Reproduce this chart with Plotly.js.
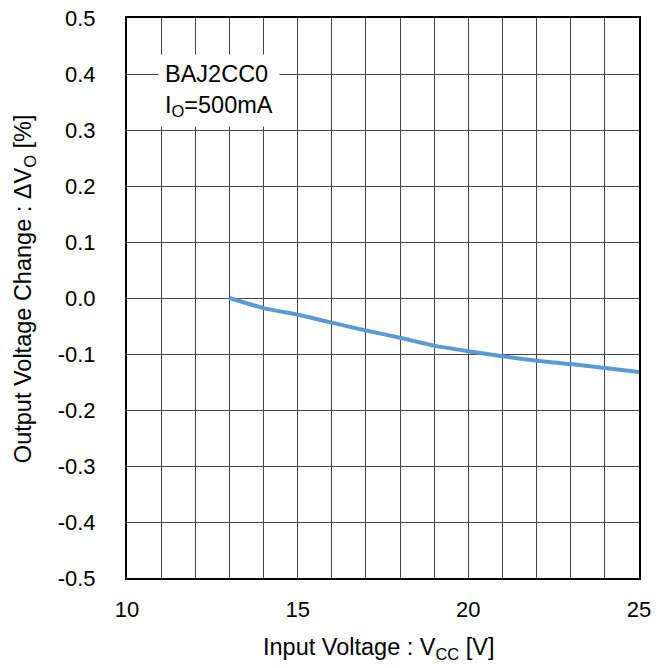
<!DOCTYPE html>
<html>
<head>
<meta charset="utf-8">
<script src="https://cdn.plot.ly/plotly-3.0.1.min.js"></script>
<style>html,body{margin:0;padding:0;background:#fff;}#chart{width:664px;height:668px;}</style>
</head>
<body>
<div id="chart"></div>
<script>
const vcc = [13, 14, 15, 16, 17, 18, 19, 20, 21, 22, 23, 24, 25];
const dVo = [0.0, -0.018, -0.030, -0.044, -0.058, -0.071, -0.085, -0.095, -0.104, -0.112, -0.118, -0.125, -0.132];
const xTickVals = [10, 15, 20, 25];
const xTickText = ['10', '15', '20', '25'];
const yTickVals = [-0.5, -0.4, -0.3, -0.2, -0.1, 0.0, 0.1, 0.2, 0.3, 0.4, 0.5];
const yTickText = ['-0.5', '-0.4', '-0.3', '-0.2', '-0.1', '0.0', '0.1', '0.2', '0.3', '0.4', '0.5'];
const xTitle = 'Input Voltage : V<sub>CC</sub> [V]';
const yTitle = 'Output Voltage Change : ΔV<sub>O</sub> [%]';
const noteText = 'BAJ2CC0<br>I<sub>O</sub>=500mA';

const fam = 'Liberation Sans, Arial, sans-serif';
const tickFont = {family: fam, size: 22, color: '#000'};
const titleFont = {family: fam, size: 23.5, color: '#000'};

const trace = {
  x: vcc, y: dVo, type: 'scatter', mode: 'lines',
  line: {color: '#5B9BD5', width: 4, shape: 'spline', smoothing: 0.6},
  hoverinfo: 'skip'
};

const layout = {
  width: 664, height: 668,
  margin: {l: 127, r: 25, t: 18, b: 90},
  paper_bgcolor: '#fff', plot_bgcolor: '#fff',
  font: tickFont,
  showlegend: false,
  xaxis: {
    range: [10, 25],
    tickvals: xTickVals, ticktext: xTickText,
    showgrid: true, gridcolor: '#444', gridwidth: 1,
    minor: {tick0: 10, dtick: 1, showgrid: true, gridcolor: '#444', gridwidth: 1, ticks: ''},
    showline: true, linecolor: '#000', linewidth: 2, mirror: true,
    ticks: 'outside', ticklen: 11, tickcolor: 'rgba(0,0,0,0)',
    zeroline: false, tickfont: tickFont, automargin: false
  },
  yaxis: {
    range: [-0.5, 0.5],
    tickvals: yTickVals, ticktext: yTickText,
    showgrid: true, gridcolor: '#444', gridwidth: 1,
    showline: true, linecolor: '#000', linewidth: 2, mirror: true,
    ticks: 'outside', ticklen: 25, tickcolor: 'rgba(0,0,0,0)',
    zeroline: false, tickfont: tickFont, automargin: false
  },
  annotations: [
    {
      xref: 'x', yref: 'y', x: 10.908, y: 0.436, xanchor: 'left', yanchor: 'top',
      text: noteText, align: 'left', showarrow: false,
      bgcolor: '#fff', borderpad: 6, font: titleFont
    },
    {
      xref: 'paper', yref: 'paper', x: 0.492, y: -0.125, xanchor: 'center', yanchor: 'middle',
      text: xTitle, showarrow: false, font: titleFont
    },
    {
      xref: 'paper', yref: 'paper', x: -0.201, y: 0.516, xanchor: 'center', yanchor: 'middle',
      text: yTitle, textangle: -90, showarrow: false, font: titleFont
    }
  ]
};

Plotly.newPlot('chart', [trace], layout, {displayModeBar: false, staticPlot: true});
</script>
</body>
</html>
